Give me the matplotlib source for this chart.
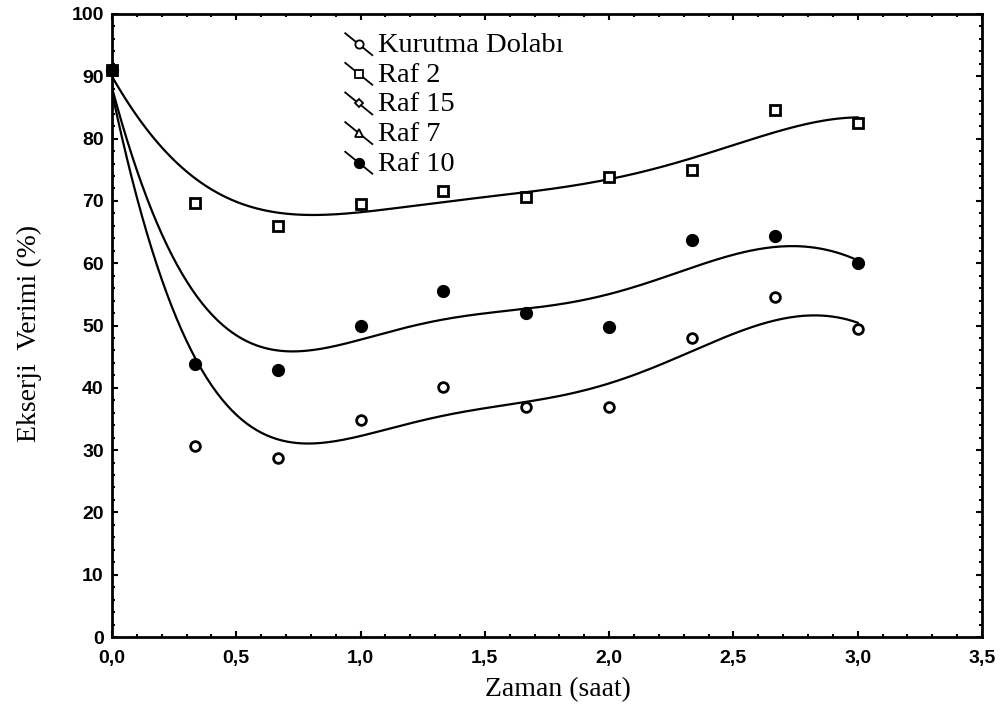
import numpy as np
import matplotlib
matplotlib.use("Agg")
import matplotlib.pyplot as plt
from matplotlib.lines import Line2D
from matplotlib.legend_handler import HandlerBase
from matplotlib.ticker import MultipleLocator, FuncFormatter

# ---- data ----
zaman = [0.0, 0.333, 0.667, 1.0, 1.333, 1.667, 2.0, 2.333, 2.667, 3.0]
kurutma_dolabi = [91.0, 30.7, 28.7, 34.9, 40.2, 36.9, 36.9, 48.0, 54.5, 49.5]
raf_2 = [91.0, 69.6, 66.0, 69.5, 71.6, 70.6, 73.8, 74.9, 84.6, 82.5]
raf_15 = []
raf_7 = []
raf_10 = [91.0, 43.8, 42.9, 50.0, 55.6, 52.0, 49.7, 63.8, 64.4, 60.0]

series_names = ["Kurutma Dolabı", "Raf 2", "Raf 15", "Raf 7", "Raf 10"]
x_ticks = [0.0, 0.5, 1.0, 1.5, 2.0, 2.5, 3.0, 3.5]
y_ticks = [0, 10, 20, 30, 40, 50, 60, 70, 80, 90, 100]

serif = ["Liberation Serif", "DejaVu Serif"]
tickfont = ["Liberation Sans Narrow", "Liberation Sans", "DejaVu Sans"]


def smooth_fit(xa, ya, xs, h=0.52):
    """Distance-weighted local quadratic least squares smoothing."""
    out = []
    for x0 in xs:
        w = np.exp(-0.5 * ((xa - x0) / h) ** 2)
        W = np.sqrt(w)
        A = np.vander(xa - x0, 3)
        c, *_ = np.linalg.lstsq(A * W[:, None], ya * W, rcond=None)
        out.append(c[-1])
    return np.array(out)


fig = plt.figure(figsize=(10.03, 7.10), dpi=100)
ax = fig.add_axes([112/1003, 1-637/710, (982-112)/1003, (637-14)/710])

styles = {
    "Kurutma Dolabı": dict(marker="o", mfc="white", ms=7, mew=2.0),
    "Raf 2": dict(marker="s", mfc="white", ms=7, mew=2.0),
    "Raf 15": dict(marker="D", mfc="white", ms=5, mew=1.5),
    "Raf 7": dict(marker="^", mfc="white", ms=6, mew=1.5),
    "Raf 10": dict(marker="o", mfc="black", ms=8, mew=1.5),
}
data = {"Kurutma Dolabı": kurutma_dolabi, "Raf 2": raf_2, "Raf 15": raf_15,
        "Raf 7": raf_7, "Raf 10": raf_10}

handles = []
for name in series_names:
    y = data[name]
    st = styles[name]
    if len(y) > 0:
        xa = np.array(zaman)
        ya = np.array(y)
        xs = np.linspace(0, 3.0, 300)
        ax.plot(xs, smooth_fit(xa, ya, xs), color="black", lw=1.6, zorder=2)
        ax.plot(xa, ya, ls="none", mec="black", zorder=3, clip_on=False, **st)
    h = Line2D([], [], color="black", lw=1.2, mec="black", **st)
    handles.append(h)


class SlantHandler(HandlerBase):
    def create_artists(self, legend, orig_handle, xdescent, ydescent,
                       width, height, fontsize, trans):
        x0, y0 = -xdescent, -ydescent
        ln = Line2D([x0, x0 + width], [y0 + height * 0.95, y0 - height * 0.15],
                    color="black", lw=1.3)
        mk = Line2D([x0 + width * 0.5], [y0 + height * 0.4],
                    marker=orig_handle.get_marker(),
                    ms=orig_handle.get_markersize() * 0.85,
                    mfc=orig_handle.get_markerfacecolor(), mec="black",
                    mew=1.3, ls="none")
        ln.set_transform(trans)
        mk.set_transform(trans)
        return [ln, mk]


leg = ax.legend(handles, series_names, loc="upper left",
                bbox_to_anchor=(331/1003, 1-18/710), bbox_transform=fig.transFigure,
                frameon=False, handler_map={Line2D: SlantHandler()},
                handlelength=0.95, handletextpad=0.2, labelspacing=0.13,
                borderpad=0, prop=dict(family=serif, size=20.5))

ax.set_xlim(0, 3.5)
ax.set_ylim(0, 100)
ax.set_xticks(x_ticks)
ax.set_yticks(y_ticks)
ax.xaxis.set_minor_locator(MultipleLocator(0.1))
ax.yaxis.set_minor_locator(MultipleLocator(2))
ax.xaxis.set_major_formatter(FuncFormatter(lambda v, p: f"{v:.1f}".replace(".", ",")))
ax.yaxis.set_major_formatter(FuncFormatter(lambda v, p: f"{int(round(v))}"))
ax.tick_params(which="both", direction="in", top=True, right=True, width=1.5)
ax.tick_params(which="major", length=4)
ax.tick_params(which="minor", length=2.5)
ax.tick_params(axis="x", which="major", pad=9)
ax.tick_params(axis="y", which="major", pad=6)
for lab in ax.get_xticklabels() + ax.get_yticklabels():
    lab.set_family(tickfont)
    lab.set_fontweight("bold")
    lab.set_fontsize(14)
for s in ax.spines.values():
    s.set_linewidth(2)

ax.set_xlabel("Zaman (saat)", family=serif, fontsize=20)
ax.xaxis.set_label_coords((558-112)/870, -(677-637)/623)
ax.set_ylabel("Ekserji  Verimi (%)", family=serif, fontsize=20)
ax.yaxis.set_label_coords(-(112-42)/870, (637-333)/623)

fig.savefig("out.png", dpi=100)
